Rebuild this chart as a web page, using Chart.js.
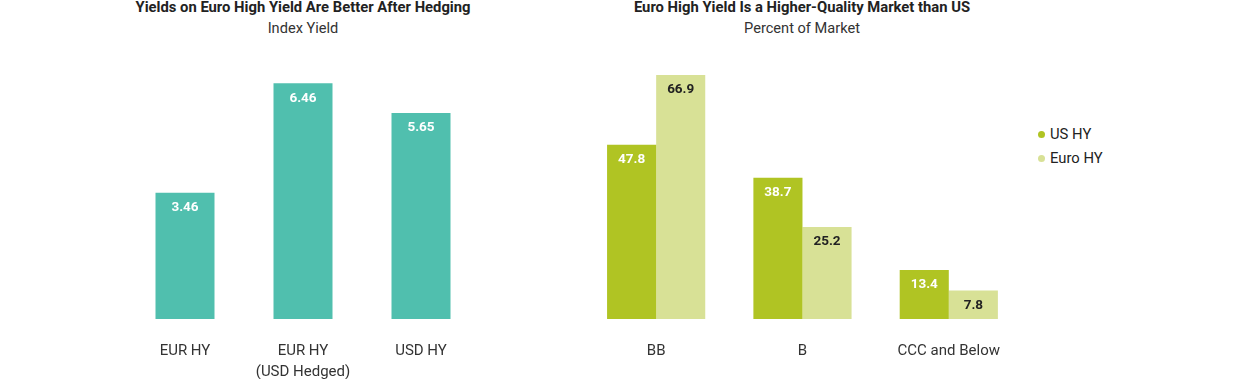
<!DOCTYPE html>
<html>
<head>
<meta charset="utf-8">
<script src="https://cdn.jsdelivr.net/npm/chart.js@4/dist/chart.umd.min.js"></script>
<style>
  html, body { margin: 0; padding: 0; background: #fff; }
  body { width: 1238px; height: 379px; position: relative; overflow: hidden; font-family: Roboto, "Open Sans", sans-serif; color: #222; }
  .title { position: absolute; text-align: center; font-weight: bold; font-size: 14.8px; top: -1px; line-height: 17px; color: #222; }
  .subtitle { position: absolute; text-align: center; font-size: 14.6px; top: 19px; line-height: 18px; color: #333; }
  .box { position: absolute; top: 60px; height: 319px; }
  .legend { position: absolute; left: 1038px; top: 122px; font-size: 14.8px; color: #222; }
  .legend div { height: 24px; line-height: 18px; display: flex; align-items: center; }
  .legend span.dot { display: inline-block; width: 7px; height: 7px; border-radius: 50%; margin-right: 5px; margin-top: 0px; }
</style>
</head>
<body>
<div class="title" style="left:103px;width:400px;">Yields on Euro High Yield Are Better After Hedging</div>
<div class="subtitle" style="left:103px;width:400px;">Index Yield</div>
<div class="title" style="left:602px;width:400px;">Euro High Yield Is a Higher-Quality Market than US</div>
<div class="subtitle" style="left:602px;width:400px;">Percent of Market</div>

<div class="box" style="left:126px;width:354px;"><canvas id="c1"></canvas></div>
<div class="box" style="left:583px;width:439px;"><canvas id="c2"></canvas></div>
<div class="legend" id="legend"></div>

<script>
// ---- Data ----
const yieldCategories = [["EUR HY"], ["EUR HY", "(USD Hedged)"], ["USD HY"]];
const yieldValues = [3.46, 6.46, 5.65];

const qualityCategories = ["BB", "B", "CCC and Below"];
const seriesNames = ["US HY", "Euro HY"];
const usHyValues = [47.8, 38.7, 13.4];
const euroHyValues = [66.9, 25.2, 7.8];

// ---- Styles ----
const TEAL = "#50BFAE";
const GREEN = "#B0C423";
const LIGHT = "#D8E196";

const valueLabels = {
  id: "valueLabels",
  afterDatasetsDraw(chart, args, opts) {
    const ctx = chart.ctx;
    ctx.save();
    ctx.font = "bold 13.5px Roboto, 'Open Sans', sans-serif";
    ctx.textAlign = "center";
    ctx.textBaseline = "middle";
    chart.data.datasets.forEach((ds, di) => {
      const meta = chart.getDatasetMeta(di);
      meta.data.forEach((el, i) => {
        ctx.fillStyle = ds.labelColor;
        ctx.fillText(ds.data[i].toFixed(ds.decimals), el.x, el.y + 15);
      });
    });
    ctx.restore();
  }
};

function xAxis() {
  return {
    grid: { display: false, drawTicks: false },
    border: { display: false },
    ticks: { color: "#333", padding: 22, font: { family: "Roboto, 'Open Sans', sans-serif", size: 15, lineHeight: 1.4 }, maxRotation: 0, autoSkip: false },
    afterFit(scale) { scale.height = 60; }
  };
}

const common = {
  responsive: true,
  maintainAspectRatio: false,
  animation: false,
  layout: { padding: 0 },
  plugins: { legend: { display: false }, title: { display: false }, tooltip: { enabled: false } }
};

new Chart(document.getElementById("c1"), {
  type: "bar",
  data: {
    labels: yieldCategories,
    datasets: [{ data: yieldValues, backgroundColor: TEAL, labelColor: "#fff", decimals: 2,
      categoryPercentage: 0.5, barPercentage: 1.0 }]
  },
  options: Object.assign({}, common, {
    scales: {
      x: xAxis(),
      y: { display: false, min: 0, max: 7.1 }
    }
  }),
  plugins: [valueLabels]
});

new Chart(document.getElementById("c2"), {
  type: "bar",
  data: {
    labels: qualityCategories,
    datasets: [
      { label: seriesNames[0], data: usHyValues, backgroundColor: GREEN, labelColor: "#fff", decimals: 1,
        categoryPercentage: 0.671, barPercentage: 1.0 },
      { label: seriesNames[1], data: euroHyValues, backgroundColor: LIGHT, labelColor: "#222", decimals: 1,
        categoryPercentage: 0.671, barPercentage: 1.0 }
    ]
  },
  options: Object.assign({}, common, {
    scales: {
      x: xAxis(),
      y: { display: false, min: 0, max: 71 }
    }
  }),
  plugins: [valueLabels]
});

// HTML legend
const legendEl = document.getElementById("legend");
[GREEN, LIGHT].forEach((c, i) => {
  const row = document.createElement("div");
  const dot = document.createElement("span");
  dot.className = "dot";
  dot.style.background = c;
  row.appendChild(dot);
  row.appendChild(document.createTextNode(seriesNames[i]));
  legendEl.appendChild(row);
});
</script>
</body>
</html>
